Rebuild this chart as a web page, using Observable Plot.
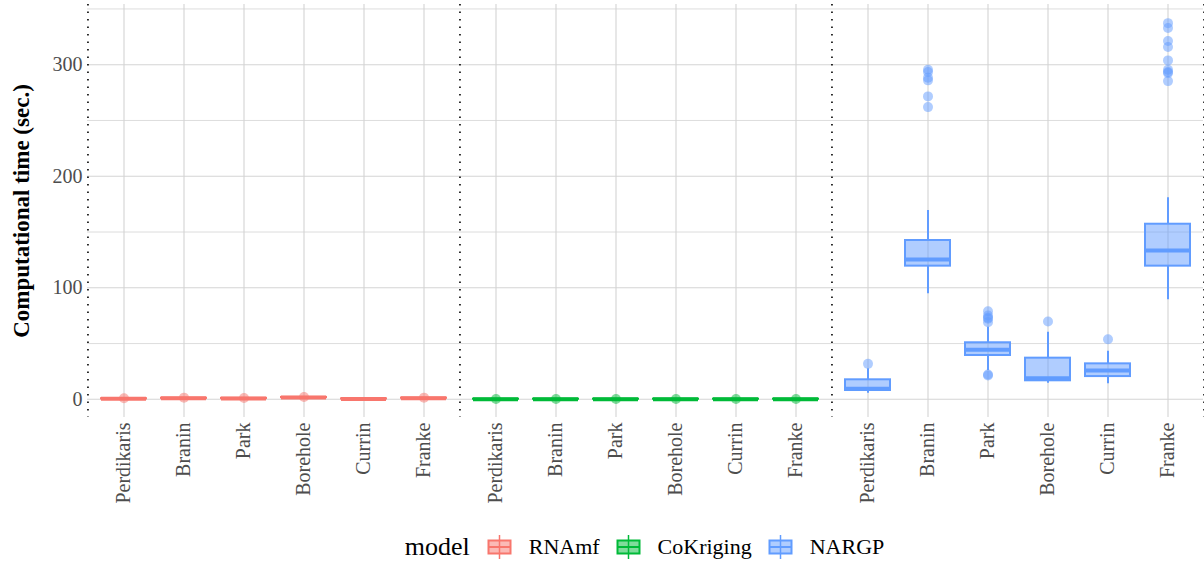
<!DOCTYPE html>
<html>
<head>
<meta charset="utf-8">
<script src="https://cdn.jsdelivr.net/npm/d3@7"></script>
<script src="https://cdn.jsdelivr.net/npm/@observablehq/plot@0.6"></script>
<style>
  html, body { margin: 0; padding: 0; background: #fff; }
  body { width: 1204px; height: 561px; overflow: hidden; font-family: "Liberation Serif", "DejaVu Serif", serif; }
  #legend { display: flex; align-items: center; justify-content: center; box-sizing: border-box;
            padding: 8px 1px 0 86px; height: 36px; color: #000; }
  #legend .title { font-size: 26px; margin-right: 17px; }
  #legend .lab { font-size: 22px; margin-left: 17px; margin-right: 16px; }
  #legend svg { display: block; }
</style>
</head>
<body>
<div id="chart"></div>
<div id="legend"></div>
<script>
// ---- data ----
const models = ["RNAmf", "CoKriging", "NARGP"];
const functions = ["Perdikaris", "Branin", "Park", "Borehole", "Currin", "Franke"];
const modelColors = ["#F8766D", "#00BA38", "#619CFF"];
const yMajorTicks = [0, 100, 200, 300];
const yMinorTicks = [50, 150, 250, 350];
const yTitle = "Computational time (sec.)";

// per function: [lower whisker, Q1, median, Q3, upper whisker]
const rnamfStats = [
  [0.2, 0.35, 0.45, 0.55, 0.8],
  [0.6, 0.8, 0.9, 1.0, 1.3],
  [0.5, 0.7, 0.8, 0.9, 1.1],
  [1.2, 1.5, 1.6, 1.7, 2.0],
  [0.2, 0.3, 0.35, 0.4, 0.5],
  [0.7, 0.9, 1.0, 1.1, 1.3]
];
const cokrigingStats = [
  [0.05, 0.1, 0.12, 0.15, 0.2],
  [0.05, 0.1, 0.12, 0.15, 0.2],
  [0.05, 0.1, 0.12, 0.15, 0.2],
  [0.05, 0.1, 0.13, 0.16, 0.22],
  [0.05, 0.1, 0.12, 0.15, 0.2],
  [0.05, 0.1, 0.12, 0.15, 0.2]
];
const nargpStats = [
  [5.5, 7.9, 9.4, 17.5, 27.4],
  [94.6, 119.4, 125.4, 142.4, 169.3],
  [25.8, 39.3, 44.4, 50.7, 64.7],
  [14.4, 16.6, 18.9, 36.9, 60.2],
  [13.9, 20.4, 25.8, 31.8, 43.1],
  [89.2, 119.4, 133.5, 157.0, 180.7]
];
const rnamfOutliers = [[0.9], [1.5], [1.2], [2.1], [], [1.5]];
const cokrigingOutliers = [[0.3], [0.3], [0.3], [0.3], [0.3], [0.3]];
const nargpOutliers = [
  [31.8],
  [295.5, 293.4, 288.4, 286.0, 271.6, 262.0],
  [79.0, 75.2, 73.1, 72.2, 69.2, 22.2, 21.3],
  [69.8],
  [53.9],
  [337.3, 332.9, 321.2, 315.9, 303.9, 295.5, 293.4, 292.5, 285.3]
];

// ---- tables built from the arrays ----
const statsByModel = [rnamfStats, cokrigingStats, nargpStats];
const outliersByModel = [rnamfOutliers, cokrigingOutliers, nargpOutliers];
const boxes = [];
const outliers = [];
models.forEach((m, mi) => {
  functions.forEach((f, fi) => {
    const [lo, q1, med, q3, hi] = statsByModel[mi][fi];
    boxes.push({model: m, fn: f, lo, q1, med, q3, hi});
    outliersByModel[mi][fi].forEach(v => outliers.push({model: m, fn: f, value: v}));
  });
});

// ---- layout ----
const W = 1204, H = 525, mL = 86, mR = 1, mT = 4, mB = 108;
const paddingInner = 0.25, paddingOuter = 0.225;
const facetW = (W - mL - mR) / models.length;
const step = facetW / (functions.length - paddingInner + 2 * paddingOuter);
const edgeOffset = step * (paddingOuter + (1 - paddingInner) / 2);
const gridColor = "#d4d4d4";

const plot = Plot.plot({
  width: W, height: H,
  marginLeft: mL, marginRight: mR, marginTop: mT, marginBottom: mB,
  style: {fontFamily: "Liberation Serif, serif", background: "#fff", color: "#000", overflow: "visible"},
  fx: {domain: models, padding: 0, axis: null},
  x: {type: "band", domain: functions, paddingInner, paddingOuter, axis: null},
  y: {domain: [-16.3, 354], axis: null},
  color: {domain: models, range: modelColors},
  marks: [
    Plot.ruleY(yMinorTicks, {stroke: gridColor, strokeWidth: 0.8}),
    Plot.ruleY(yMajorTicks, {stroke: gridColor, strokeWidth: 1.1}),
    Plot.ruleX(functions, {stroke: gridColor, strokeWidth: 1.1}),
    // dotted separators between model groups
    Plot.ruleX(models, {fx: d => d, x: () => functions[0], dx: -edgeOffset,
      stroke: "#000", strokeWidth: 1.6, strokeDasharray: "1.6,5.9"}),
    Plot.ruleX([models[models.length - 1]], {fx: d => d, x: () => functions[functions.length - 1], dx: edgeOffset,
      stroke: "#000", strokeWidth: 1.6, strokeDasharray: "1.6,5.9"}),
    // whiskers
    Plot.ruleX(boxes, {fx: "model", x: "fn", y1: "lo", y2: "q1", stroke: "model", strokeWidth: 2}),
    Plot.ruleX(boxes, {fx: "model", x: "fn", y1: "q3", y2: "hi", stroke: "model", strokeWidth: 2}),
    // boxes
    Plot.barY(boxes, {fx: "model", x: "fn", y1: "q1", y2: "q3", fill: "model", fillOpacity: 0.5,
      stroke: "model", strokeWidth: 2}),
    // medians
    Plot.tickY(boxes, {fx: "model", x: "fn", y: "med", stroke: "model", strokeWidth: 4}),
    // outliers
    Plot.dot(outliers, {fx: "model", x: "fn", y: "value", fill: "model", fillOpacity: 0.5, r: 5, stroke: null}),
    // axes
    Plot.axisY(yMajorTicks, {tickSize: 0, tickPadding: 5, fontSize: 20, fill: "#4d4d4d", label: null}),
    Plot.axisX({tickRotate: -90, tickSize: 0, tickPadding: 5, fontSize: 20, fill: "#4d4d4d", label: null}),
    Plot.text([yTitle], {fx: () => models[0], frameAnchor: "left", textAnchor: "middle", lineAnchor: "middle",
      dx: -66, rotate: -90, text: d => d, fontSize: 23, fontWeight: "bold", fill: "#000"})
  ]
});
document.getElementById("chart").appendChild(plot);

// ---- legend ----
const legend = d3.select("#legend");
legend.append("span").attr("class", "title").text("model");
models.forEach((m, i) => {
  const c = modelColors[i];
  const svg = legend.append("svg").attr("width", 25).attr("height", 24);
  svg.append("line").attr("x1", 12.5).attr("x2", 12.5).attr("y1", 0).attr("y2", 24)
    .attr("stroke", c).attr("stroke-width", 1.5);
  svg.append("rect").attr("x", 1.5).attr("y", 5.5).attr("width", 22).attr("height", 13)
    .attr("fill", c).attr("fill-opacity", 0.5).attr("stroke", c).attr("stroke-width", 2);
  svg.append("line").attr("x1", 1.5).attr("x2", 23.5).attr("y1", 12).attr("y2", 12)
    .attr("stroke", c).attr("stroke-width", 2);
  legend.append("span").attr("class", "lab").text(m)
    .style("margin-right", i === models.length - 1 ? "0px" : "16px");
});
</script>
</body>
</html>
